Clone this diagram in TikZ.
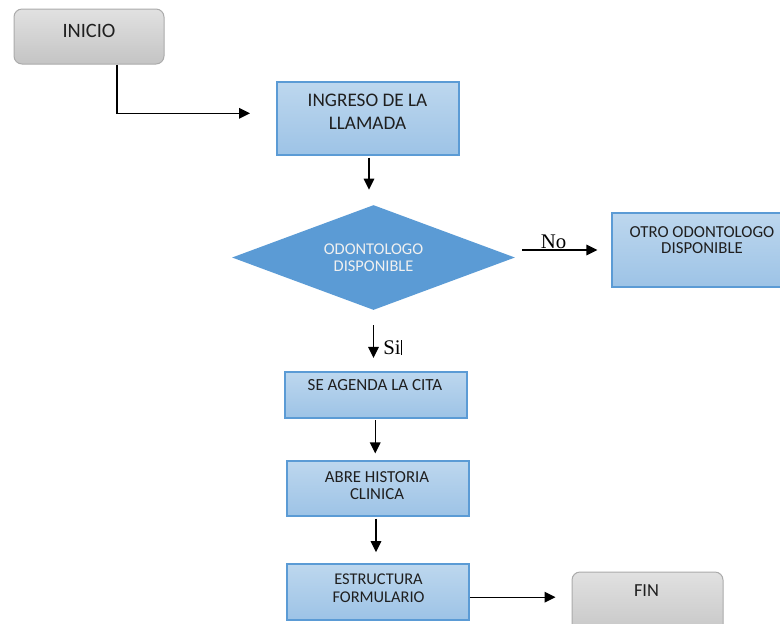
\documentclass[tikz,border=0pt]{standalone}
\usepackage{fontspec}
\setmainfont{Carlito}
\newfontfamily\serifnota{Liberation Serif}
\usepackage{tikz}
\usetikzlibrary{positioning, fit, shapes.geometric, arrows.meta}

\definecolor{azulclaro}{HTML}{BDD7EE}
\definecolor{azulmedio}{HTML}{9DC3E6}
\definecolor{azulborde}{HTML}{5B9BD5}
\definecolor{grisclaro}{HTML}{E1E1E1}
\definecolor{grismedio}{HTML}{C4C4C4}
\definecolor{grisborde}{HTML}{ABABAB}

\tikzset{
  proceso/.style={draw=azulborde, top color=azulclaro, bottom color=azulmedio, inner sep=0pt, line width=0.6pt},
  terminal/.style={draw=grisborde, top color=grisclaro, bottom color=grismedio, rounded corners=4pt, inner sep=0pt, line width=0.5pt},
  decision/.style={diamond, fill=azulborde, text=white!94!black, inner sep=0pt, aspect=2.7, minimum width=141.5pt, minimum height=52.5pt, align=center},
  texto/.style={align=center, text=black!88, inner sep=0pt},
  flecha/.style={-{Triangle[length=5.5pt, width=5.3pt]}, line width=0.65pt},
  nota/.style={font=\serifnota\fontsize{10.4}{12}\selectfont, inner sep=0.3pt},
}

\begin{document}
\begin{tikzpicture}[x=0.5pt, y=-0.5pt]
  \useasboundingbox (0,0) rectangle (780,623);
  % cajas
  \node[terminal, fit={(14,9) (164,64)}] (inicio) {};
  \node[proceso, fit={(277,82) (459,155)}] (ingreso) {};
  \node[decision, font=\fontsize{8.2}{8.5}\selectfont] (odonto) at (373.5,257.5) {ODONTOLOGO\\DISPONIBLE};
  \node[proceso, fit={(612,213) (786,287)}] (otro) {};
  \node[proceso, fit={(285,372) (467,418)}] (agenda) {};
  \node[proceso, fit={(287,461) (469,516)}] (historia) {};
  \node[proceso, fit={(287,564) (469,620)}] (formulario) {};
  \node[terminal, fit={(572,572) (723,640)}] (fin) {};

  % textos
  \node[texto, font=\fontsize{10.2}{12}\selectfont] (inicio-t) at (89,31) {INICIO};
  \node[texto, font=\fontsize{9.6}{11.7}\selectfont] (ingreso-t) at (367.5,111.7) {INGRESO DE LA\\LLAMADA};
  \node[texto, font=\fontsize{8.4}{8.3}\selectfont] (otro-t) at (702,240) {OTRO ODONTOLOGO\\DISPONIBLE};
  \node[texto, font=\fontsize{8.5}{9}\selectfont] (agenda-t) at (375,385) {SE AGENDA LA CITA};
  \node[texto, font=\fontsize{8.4}{8.5}\selectfont] (historia-t) at (377,485.5) {ABRE HISTORIA\\CLINICA};
  \node[texto, font=\fontsize{8.2}{9}\selectfont] (formulario-t) at (378.5,588) {ESTRUCTURA\\FORMULARIO};
  \node[texto, font=\fontsize{9.2}{11}\selectfont] (fin-t) at (646.5,591) {FIN};

  % conectores
  \coordinate (llegada) at (250,113.3);
  \draw[flecha] ([xshift=14pt]inicio.south) |- (llegada);
  \draw[flecha, shorten <=1pt, shorten >=7.5pt] ([xshift=0.5pt]ingreso.south) -- ([xshift=0.5pt]ingreso.south |- odonto.north);
  \draw[flecha] ([xshift=3.3pt]odonto.east |- otro.west) -- ([xshift=-7pt]otro.west)
    node[nota, pos=0.42, above] (no) {No};
  \draw[flecha, shorten <=7.5pt, shorten >=6.8pt] (odonto.south) -- (odonto.south |- agenda.north)
    node[nota, pos=0.61, right=4.3pt] (si) {Si\rule[-0.3pt]{0.45pt}{7.5pt}};
  \draw[flecha, shorten <=0.8pt, shorten >=3.5pt] ([xshift=-0.4pt]agenda.south) -- ([xshift=-0.4pt]agenda.south |- historia.north);
  \draw[flecha, shorten <=1pt, shorten >=5.6pt] ([xshift=-1pt]historia.south) -- ([xshift=-1pt]historia.south |- formulario.north);
  \draw[flecha, shorten >=8pt] ([yshift=-2.6pt]formulario.east) -- ([yshift=-2.6pt]formulario.east -| fin.west);
\end{tikzpicture}
\end{document}
